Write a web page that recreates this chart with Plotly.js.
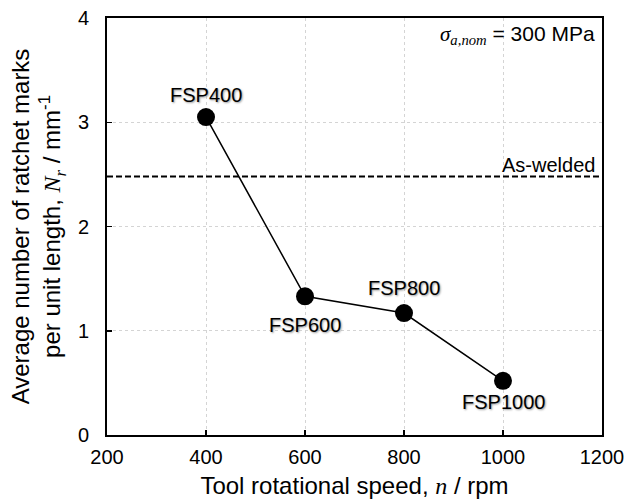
<!DOCTYPE html>
<html><head><meta charset="utf-8">
<script src="https://cdn.plot.ly/plotly-3.0.1.min.js"></script>
<style>html,body{margin:0;padding:0;background:#fff}</style>
</head><body><div id="chart" style="width:625px;height:502px"></div>
<script>
const speeds = [400, 600, 800, 1000];
const ratchetMarks = [3.05, 1.33, 1.17, 0.52];
const labels = ['FSP400', 'FSP600', 'FSP800', 'FSP1000'];
const labelShifts = [22, -29, 25, -21];
const asWelded = 2.48;
const xTicks = [200, 400, 600, 800, 1000, 1200];
const yTicks = [0, 1, 2, 3, 4];

const F = 'Liberation Sans, Arial, sans-serif';

const trace = {
  x: speeds, y: ratchetMarks, mode: 'lines+markers',
  line: {color: '#000', width: 1.5},
  marker: {color: '#000', size: 18},
  cliponaxis: false, hoverinfo: 'none', showlegend: false
};

const pointLabels = labels.map((t, i) => ({
  xref: 'x', yref: 'y', x: speeds[i], y: ratchetMarks[i], yshift: labelShifts[i],
  xanchor: 'center', yanchor: 'middle', text: t, showarrow: false,
  font: {size: 20, color: '#000', shadow: '1px 1px 2px #999'}
}));

const layout = {
  width: 625, height: 502,
  margin: {l: 107, r: 23, t: 18, b: 67},
  paper_bgcolor: '#fff', plot_bgcolor: '#fff',
  font: {family: F, size: 20, color: '#000'},
  xaxis: {
    range: [200, 1200], tickvals: xTicks, ticks: 'inside', ticklen: 5, tickwidth: 1.5, tickcolor: '#000',
    showline: true, linecolor: '#000', linewidth: 2, mirror: true,
    showgrid: true, gridcolor: '#d4d4d4', griddash: 'dot', gridwidth: 1, zeroline: false,
    tickfont: {size: 20}, ticklabelstandoff: 3,
    title: {text: 'Tool rotational speed, <i style="font-family:Liberation Serif">n</i> / rpm', font: {size: 24}, standoff: 10}
  },
  yaxis: {
    range: [0, 4], tickvals: yTicks, ticks: 'inside', ticklen: 5, tickwidth: 1.5, tickcolor: '#000',
    showline: true, linecolor: '#000', linewidth: 2, mirror: true,
    showgrid: true, gridcolor: '#d4d4d4', griddash: 'dot', gridwidth: 1, zeroline: false,
    tickfont: {size: 20}, ticklabelstandoff: 12,
    title: {text: 'Average number of ratchet marks<br>per unit length, <i style="font-family:Liberation Serif">N<sub>r</sub></i> / mm<sup>-1</sup>', font: {size: 24}, standoff: 10}
  },
  shapes: [{type: 'line', xref: 'paper', x0: 0, x1: 1, yref: 'y', y0: asWelded, y1: asWelded,
    line: {color: '#000', width: 2, dash: '6px,3px'}}],
  annotations: pointLabels.concat([
    {xref: 'paper', yref: 'y', x: 0.99, y: asWelded, yanchor: 'bottom', xanchor: 'right', yshift: -2,
     text: 'As-welded', showarrow: false, font: {size: 20}},
    {xref: 'paper', yref: 'paper', x: 0.99, y: 0.995, yanchor: 'top', xanchor: 'right',
     text: '<i style="font-family:Liberation Serif">σ<sub>a,nom</sub></i> = 300 MPa', showarrow: false, font: {size: 21}}
  ])
};
Plotly.newPlot('chart', [trace], layout, {staticPlot: true});
</script></body></html>
